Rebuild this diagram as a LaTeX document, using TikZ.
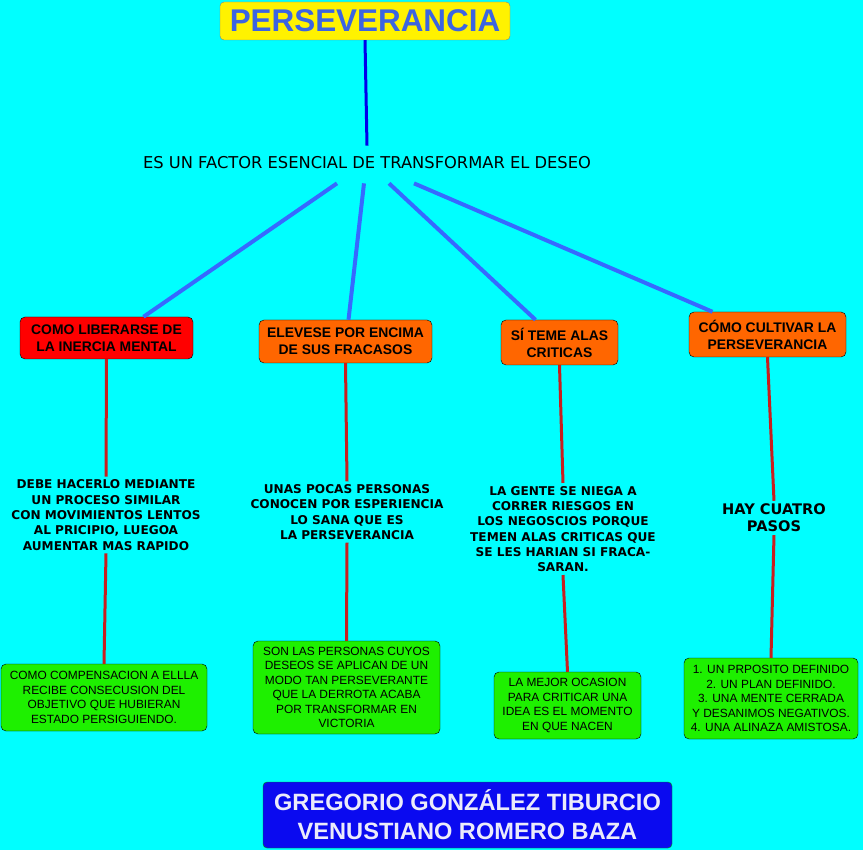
\documentclass[tikz,border=0pt]{standalone}
\usepackage{fontspec}
\setmainfont{Liberation Sans}
\newfontfamily\verdana{DejaVu Sans}
\usetikzlibrary{positioning,calc}

\definecolor{fondo}{RGB}{0,255,255}
\definecolor{titulo}{RGB}{60,100,225}
\definecolor{azulfuerte}{RGB}{0,0,235}
\definecolor{azulrama}{RGB}{55,105,255}
\definecolor{rojolinea}{RGB}{200,30,30}
\definecolor{naranja}{RGB}{255,102,0}
\definecolor{verde}{RGB}{30,240,0}
\definecolor{azulautor}{RGB}{10,10,240}
\definecolor{textoautor}{RGB}{235,235,250}

\begin{document}
\begin{tikzpicture}[
    x=1pt, y=-1pt,
    titlebox/.style={rectangle, draw=gray, fill=yellow, rounded corners=4pt, minimum width=290pt, minimum height=38pt, font=\fontsize{31.4}{33}\selectfont\bfseries, text=titulo},
    topic/.style={rectangle, draw=black, fill=naranja, rounded corners=5pt, align=center, inner sep=1pt, font=\fontsize{13.9}{17}\selectfont\bfseries},
    note/.style={align=center, inner sep=3pt, font=\verdana\fontsize{12.1}{15.3}\selectfont\bfseries},
    leaf/.style={rectangle, draw=black, fill=verde, rounded corners=5pt, align=center, inner sep=1pt, font=\fontsize{11.9}{14.5}\selectfont},
    rama/.style={draw=azulrama, line width=4pt},
    baja/.style={draw=rojolinea, line width=3pt}
]

% Fondo
\fill[fondo] (0,0) rectangle (863,850);

% Titulo y frase central
\node[titlebox] (title) at (365,21) {PERSEVERANCIA};
\node[font=\verdana\fontsize{16.3}{18}\selectfont, inner sep=2pt] (sub) at (367,163) {ES UN FACTOR ESENCIAL DE TRANSFORMAR EL DESEO};
\draw[draw=azulfuerte, line width=3pt] (title.south) -- ([yshift=9pt]sub.north);

% Fila de temas
\node[topic, fill=red, minimum width=173pt, minimum height=42pt] (b1) at (106.5,338) {COMO LIBERARSE DE\\ LA INERCIA MENTAL};
\node[topic, minimum width=173pt, minimum height=43pt] (b2) at (345.5,341.5) {ELEVESE POR ENCIMA\\ DE SUS FRACASOS};
\node[topic, minimum width=117pt, minimum height=45pt] (b3) at (559.5,342.5) {SÍ TEME ALAS\\ CRITICAS};
\node[topic, minimum width=157pt, minimum height=45pt] (b4) at (767.5,334.5) {CÓMO CULTIVAR LA\\ PERSEVERANCIA};

\draw[rama] ([xshift=-30pt,yshift=-12pt]sub.south) -- ([xshift=37pt]b1.north);
\draw[rama] ([xshift=-3pt,yshift=-12pt]sub.south) -- ([xshift=3pt]b2.north);
\draw[rama] ([xshift=22pt,yshift=-12pt]sub.south) -- ([xshift=-24pt]b3.north);
\draw[rama] ([xshift=47pt,yshift=-12pt]sub.south) -- ([xshift=-55pt]b4.north);

% Textos intermedios
\node[note] (t1) at (106,515) {DEBE HACERLO MEDIANTE\\ UN PROCESO SIMILAR\\CON MOVIMIENTOS LENTOS\\AL PRICIPIO, LUEGOA\\AUMENTAR MAS RAPIDO};
\node[note] (t2) at (347,512) {UNAS POCAS PERSONAS\\CONOCEN POR ESPERIENCIA\\LO SANA QUE ES\\LA PERSEVERANCIA};
\node[note] (t3) at (563,529) {LA GENTE SE NIEGA A\\CORRER RIESGOS EN\\LOS NEGOSCIOS PORQUE\\TEMEN ALAS CRITICAS QUE\\SE LES HARIAN SI FRACA-\\SARAN.};
\node[note, font=\verdana\fontsize{14.6}{17}\selectfont\bfseries] (t4) at (774,518) {HAY CUATRO\\PASOS};

% Cajas verdes
\node[leaf, minimum width=206pt, minimum height=67pt] (g1) at (104,697.5) {COMO COMPENSACION A ELLLA\\RECIBE CONSECUSION DEL\\OBJETIVO QUE HUBIERAN\\ESTADO PERSIGUIENDO.};
\node[leaf, minimum width=187pt, minimum height=93pt] (g2) at (346.5,687.5) {SON LAS PERSONAS CUYOS\\DESEOS SE APLICAN DE UN\\MODO TAN PERSEVERANTE\\QUE LA DERROTA ACABA\\POR TRANSFORMAR EN\\VICTORIA};
\node[leaf, minimum width=147pt, minimum height=67pt] (g3) at (567.5,705.5) {LA MEJOR OCASION\\PARA CRITICAR UNA\\IDEA ES EL MOMENTO\\EN QUE NACEN};
\node[leaf, minimum width=174pt, minimum height=81pt] (g4) at (771,698.5) {1. UN PRPOSITO DEFINIDO\\2. UN PLAN DEFINIDO.\\3. UNA MENTE CERRADA\\Y DESANIMOS NEGATIVOS.\\4. UNA ALINAZA AMISTOSA.};

% Lineas rojas
\foreach \i in {1,...,4} {
  \draw[baja] (b\i.south) -- (t\i.north);
  \draw[baja] (t\i.south) -- (g\i.north);
}

% Autores
\node[rectangle, draw=green!60!black, fill=azulautor, rounded corners=4pt, minimum width=409pt, minimum height=66pt, align=center, text=textoautor, font=\fontsize{23.6}{29}\selectfont\bfseries] (authors) at (467.5,815) {GREGORIO GONZÁLEZ TIBURCIO\\VENUSTIANO ROMERO BAZA};

\end{tikzpicture}
\end{document}
